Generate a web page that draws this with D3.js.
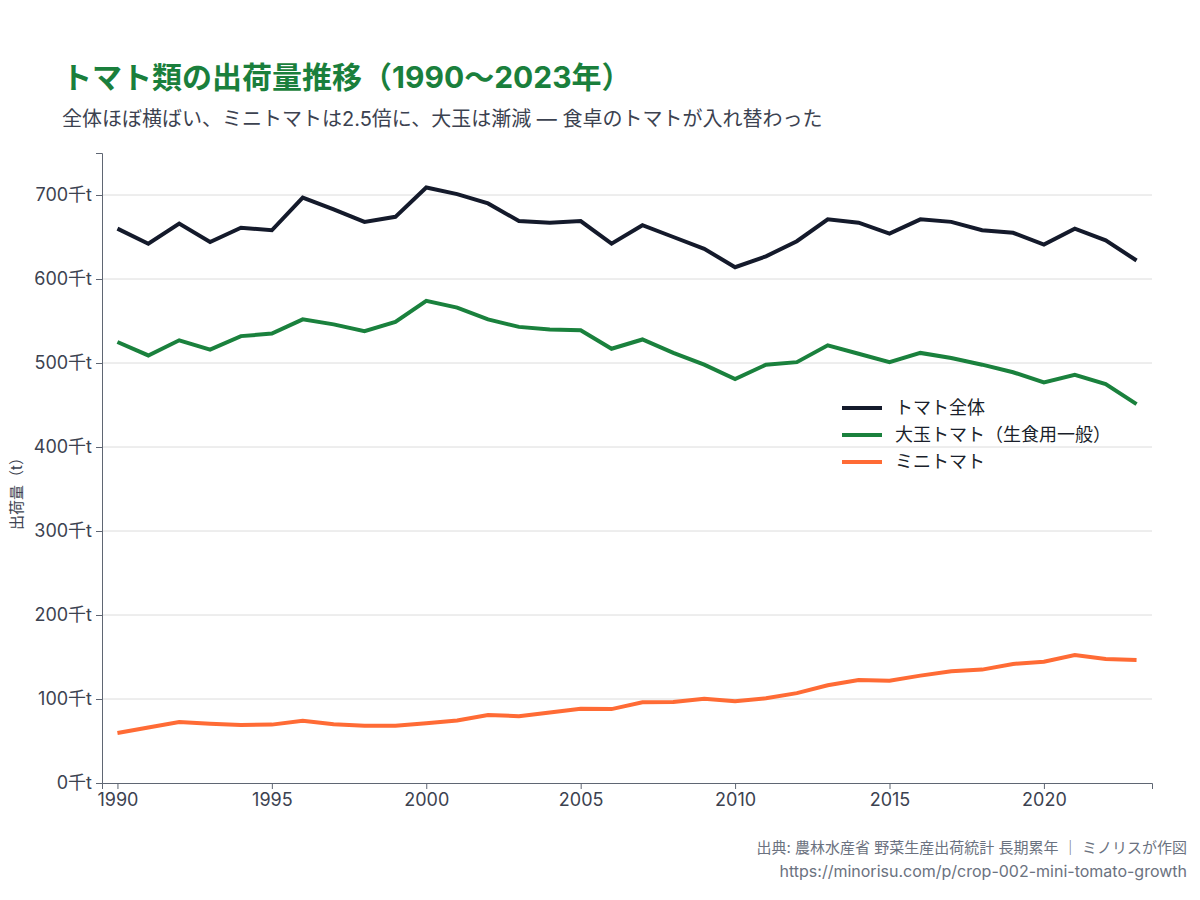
<!DOCTYPE html>
<html><head><meta charset="utf-8">
<script src="https://cdn.jsdelivr.net/npm/d3@7"></script>
<style>
body{margin:0;background:#fff;}
svg{display:block;font-family:Inter,"Noto Sans CJK JP",sans-serif;}
</style></head><body>
<svg id="c" width="1200" height="900"></svg>
<script>
const years = d3.range(1990, 2024);
const total = [660,642,666,644,661,658,697,683,668,674,709,701,690,669,667,669,642,664,650,636,614,627,645,671,667,654,671,668,658,655,641,660,646,622];
const large = [525,509,527,516,532,535,552,546,538,549,574,566,552,543,540,539,517,528,512,498,481,498,501,521,511,501,512,506,498,489,477,486,475,451];
const mini  = [59.5,66,72.5,70.5,69,69.5,74,70,68.3,68.3,71,74.5,81,79.5,84,88.5,88,96,96.4,100.4,97.2,100.8,107,116.3,122.6,121.8,127.8,133,135,141.7,144.4,152.4,147.6,146.4];
const seriesNames = ["トマト全体","大玉トマト（生食用一般）","ミニトマト"];
const seriesColors = ["#141a2b","#1a813d","#ff6b35"];
const yTicks = [0,100,200,300,400,500,600,700];
const xTicks = [1990,1995,2000,2005,2010,2015,2020];

const FONT = 'Inter,"Noto Sans CJK JP",sans-serif';
const svg = d3.select("#c");
const x = d3.scaleLinear().domain([1989.5, 2023.5]).range([102, 1152]);
const y = d3.scaleLinear().domain([0, 750]).range([783, 153]);

// title
svg.append("text").attr("x",62).attr("y",88).attr("font-size",30).attr("font-weight",700)
  .attr("fill","#1a7f3c").text("トマト類の出荷量推移（1990〜2023年）");
svg.append("text").attr("x",62).attr("y",126).attr("font-size",20).attr("fill","#3c4250")
  .text("全体ほぼ横ばい、ミニトマトは2.5倍に、大玉は漸減 — 食卓のトマトが入れ替わった");

// gridlines
svg.append("g").selectAll("line").data(yTicks.filter(d=>d>0)).join("line")
  .attr("x1",102).attr("x2",1152).attr("y1",d=>y(d)).attr("y2",d=>y(d))
  .attr("stroke","#dcdcdc").attr("stroke-width",1);

// axes
const yAxis = svg.append("g").attr("transform","translate(102,0)")
  .call(d3.axisLeft(y).tickValues(yTicks).tickFormat(d=>d+"千t").tickSize(6).tickPadding(4));
const xAxis = svg.append("g").attr("transform","translate(0,783)")
  .call(d3.axisBottom(x).tickValues(xTicks).tickFormat(d3.format("d")).tickSize(6).tickPadding(4));
[yAxis,xAxis].forEach(g=>{
  g.select(".domain").attr("stroke","#5f6673");
  g.selectAll(".tick line").attr("stroke","#5f6673");
  g.selectAll(".tick text").attr("fill","#3c4250").attr("font-size",18).attr("font-family",FONT);
});

svg.append("text").attr("transform","translate(22,490) rotate(-90)").attr("text-anchor","middle")
  .attr("font-size",15).attr("fill","#3c4250").text("出荷量（t）");

// lines
const data = [total, large, mini];
const line = d3.line().x((d,i)=>x(years[i])).y(d=>y(d));
svg.append("g").selectAll("path").data(data).join("path")
  .attr("d",line).attr("fill","none")
  .attr("stroke",(d,i)=>seriesColors[i]).attr("stroke-width",4)
  .attr("stroke-linejoin","miter").attr("stroke-linecap","butt");

// legend
const lg = svg.append("g").attr("transform","translate(842,408)");
seriesNames.forEach((n,i)=>{
  const r = lg.append("g").attr("transform",`translate(0,${i*27})`);
  r.append("line").attr("x1",0).attr("x2",40).attr("y1",0).attr("y2",0)
    .attr("stroke",seriesColors[i]).attr("stroke-width",4);
  r.append("text").attr("x",53).attr("y",6).attr("font-size",18).attr("fill","#1a1f2b").text(n);
});

// footer
svg.append("text").attr("x",1187).attr("y",853).attr("text-anchor","end").attr("font-size",15)
  .attr("fill","#6b7280").text("出典: 農林水産省 野菜生産出荷統計 長期累年 ｜ ミノリスが作図");
svg.append("text").attr("x",1187).attr("y",877).attr("text-anchor","end").attr("font-size",16)
  .attr("fill","#6b7280").text("https://minorisu.com/p/crop-002-mini-tomato-growth");
</script>
</body></html>
